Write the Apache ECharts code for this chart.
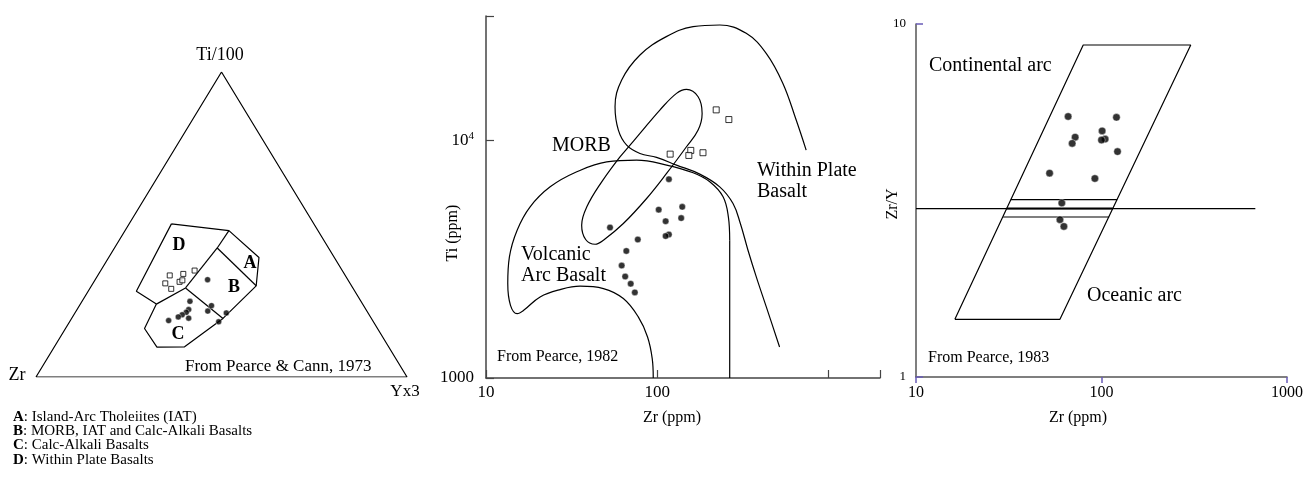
<!DOCTYPE html>
<html>
<head>
<meta charset="utf-8">
<title>Basalt discrimination diagrams</title>
<script src="https://cdn.jsdelivr.net/npm/echarts@6.0.0/dist/echarts.min.js"></script>
<style>
  html, body { margin: 0; padding: 0; background: #fff; }
  #main { width: 1306px; height: 487px; }
</style>
</head>
<body>
<div id="main"></div>
<script>
var serif = '"Liberation Serif", "Times New Roman", serif';

/* ----------------------------------------------------------------
 Pearce & Cann 1973 : compositions as [Zr, Ti/100, Yx3] (%)
 -----------------------------------------------------------------*/
var ternDots = [
  [37.8, 31.9, 30.3], [46.1, 24.8, 29.1], [41.0, 23.4, 35.6], [42.9, 21.6, 35.5],
  [47.8, 22.1, 30.1], [48.9, 21.2, 29.9], [50.4, 20.4, 29.2], [51.8, 19.7, 28.5],
  [49.2, 19.3, 31.5], [55.0, 18.5, 26.5], [38.2, 21.0, 40.8], [41.7, 18.1, 40.2]
];
var ternSquares = [
  [47.3, 33.3, 19.4], [43.4, 33.8, 22.8], [39.8, 34.9, 25.3], [49.8, 30.7, 19.5],
  [49.1, 28.9, 22.0], [45.7, 31.2, 23.1], [44.7, 31.7, 23.6]
];
var ternFrame = [[100, 0, 0], [0, 0, 100], [0, 100, 0], [100, 0, 0]];
var ternOutline = [
  [38.4, 50.2, 11.4], [24.0, 48.0, 28.0], [20.3, 39.2, 40.5], [25.7, 29.9, 44.4],
  [40.0, 19.2, 40.8], [55.0, 9.9, 35.1], [62.5, 9.8, 27.7], [62.8, 15.9, 21.3],
  [55.6, 23.9, 20.5], [58.9, 28.1, 13.0], [38.4, 50.2, 11.4]
];
var ternInner = [
  [[24.0, 48.0, 28.0], [30.0, 42.3, 27.7]],
  [[30.0, 42.3, 27.7], [25.7, 29.9, 44.4]],
  [[30.0, 42.3, 27.7], [45.1, 29.2, 25.7]],
  [[45.1, 29.2, 25.7], [55.6, 23.9, 20.5]],
  [[45.1, 29.2, 25.7], [40.0, 19.2, 40.8]]
];

/* ----------------------------------------------------------------
 Pearce 1982 : [Zr ppm, Ti ppm]
 -----------------------------------------------------------------*/
var tiDots = [
  [117, 6850], [102, 5100], [140, 5240], [112, 4560], [138, 4700], [117, 4010],
  [112, 3950], [53, 4290], [77, 3820], [66, 3420], [62, 2970], [65, 2670],
  [70, 2490], [74, 2290]
];
var tiSquares = [[221, 13400], [262, 12200], [119, 8730], [157, 9050], [153, 8620], [185, 8850]];
var morbField = [
  [60.6, 8509], [79.3, 10666], [103.6, 13376], [129.6, 15720], [148.2, 16340],
  [173.3, 15215], [182.9, 12946], [173.3, 11017], [148.2, 9376], [113.4, 7240],
  [86.7, 5683], [63.4, 4460], [48.5, 3795], [43.4, 3650], [38.2, 3820],
  [36.2, 4390], [38.8, 5242], [47.4, 6677], [60.6, 8509]
];
var vabField = [
  [94.8, 1000], [93.5, 1206], [87.8, 1488], [77.5, 1806], [63.4, 2157], [48.5, 2376],
  [35.4, 2431], [27.1, 2353], [20.7, 2192], [16.6, 1926], [15.2, 1865], [13.9, 2021],
  [13.4, 2494], [13.7, 3229], [15.2, 4182], [18.1, 5242], [23.7, 6362], [33.9, 7358],
  [50.7, 8103], [75.8, 8235], [113.4, 7850], [162.1, 7287], [202.7, 6677],
  [242.4, 5776], [260.3, 4758], [265, 3795]
];
var vabEdge = [[265, 3795], [265, 1000]];
var wpbField = [
  [741, 9077], [648, 12140], [542, 17310], [433, 23160], [331, 28100], [232, 30470],
  [162, 29990], [113, 27220], [79.3, 22790], [62.0, 17880], [56.7, 13810],
  [59.3, 11020], [66.3, 9528], [79.3, 8789], [99.1, 8455], [129.6, 7850],
  [177.2, 7194], [231.7, 6362], [277.1, 5413], [305.8, 4460], [338.9, 3445],
  [378.9, 2661], [433.5, 1990], [518.3, 1350]
];

/* ----------------------------------------------------------------
 Pearce 1983 : [Zr ppm, Zr/Y]
 -----------------------------------------------------------------*/
var zyDots = [
  [66.1, 5.47], [120.4, 5.44], [100.8, 4.98], [104.6, 4.72], [100, 4.69],
  [72.1, 4.78], [69.5, 4.59], [122, 4.35], [52.5, 3.78], [92.1, 3.65],
  [61.1, 3.11], [59.7, 2.79], [62.7, 2.67]
];
var arcField = [[16.2, 1.457], [59.7, 1.457], [302.8, 8.72], [79.7, 8.72], [16.2, 1.457]];
var arcSplit = [[10, 3], [675, 3]];
var arcSplitIn = [[30.8, 3], [115, 3]];
var arcSplitHi = [[32.4, 3.18], [121.5, 3.18]];
var arcSplitLo = [[29.5, 2.84], [110, 2.84]];

function tern(p) {
  var s = p[0] + p[1] + p[2];
  var t = p[1] / s, y = p[2] / s;
  return [y + t / 2, t];
}

function line(g, data, smooth, w) {
  return {
    type: 'line', xAxisIndex: g, yAxisIndex: g, data: data,
    showSymbol: false, smooth: smooth || false, silent: true,
    lineStyle: { color: '#000', width: w || 1.2 }, z: 2
  };
}
function dots(g, data, size) {
  return {
    type: 'scatter', xAxisIndex: g, yAxisIndex: g, data: data, symbol: 'circle',
    symbolSize: size, silent: true, z: 4,
    itemStyle: { color: '#000', borderColor: '#fff', borderWidth: 0.5 }
  };
}
function squares(g, data, size) {
  return {
    type: 'scatter', xAxisIndex: g, yAxisIndex: g, data: data, symbol: 'rect',
    symbolSize: size, silent: true, z: 4,
    itemStyle: { color: '#fff', borderColor: '#000', borderWidth: 1 }
  };
}

var series = [
  line(0, ternFrame.map(tern)),
  line(0, ternOutline.map(tern)),
  dots(0, ternDots.map(tern), 6),
  squares(0, ternSquares.map(tern), 5),
  line(1, morbField, 0.4),
  line(1, vabField, 0.4),
  line(1, vabEdge),
  line(1, wpbField, 0.4),
  dots(1, tiDots, 6.5),
  squares(1, tiSquares, 6),
  line(2, arcField),
  line(2, arcSplit),
  line(2, arcSplitIn, false, 2),
  line(2, arcSplitHi),
  line(2, arcSplitLo),
  dots(2, zyDots, 7.5)
];
ternInner.forEach(function (seg) {
  series.push(line(0, seg.map(tern)));
});

function txt(x, y, s, size, opt) {
  opt = opt || {};
  return {
    type: 'text', x: x, y: y, rotation: opt.rot || 0, silent: true,
    style: {
      text: s, fill: '#000', fontFamily: serif, fontSize: size,
      fontWeight: opt.bold ? 'bold' : 'normal',
      textAlign: opt.align || 'left', textVerticalAlign: 'middle',
      rich: opt.rich
    }
  };
}
var boldRich = { b: { fontWeight: 'bold', fontFamily: serif, fontSize: 15 } };

var graphics = [
  txt(220, 55, 'Ti/100', 18, { align: 'center' }),
  txt(17, 375, 'Zr', 18, { align: 'center' }),
  txt(405, 392, 'Yx3', 17, { align: 'center' }),
  txt(185, 367, 'From Pearce & Cann, 1973', 17),
  txt(179, 245, 'D', 18, { align: 'center', bold: true }),
  txt(250, 263, 'A', 18, { align: 'center', bold: true }),
  txt(234, 287, 'B', 18, { align: 'center', bold: true }),
  txt(178, 334, 'C', 18, { align: 'center', bold: true }),
  txt(13, 417, '{b|A}: Island-Arc Tholeiites (IAT)', 15, { rich: boldRich }),
  txt(13, 431, '{b|B}: MORB, IAT and Calc-Alkali Basalts', 15, { rich: boldRich }),
  txt(13, 445, '{b|C}: Calc-Alkali Basalts', 15, { rich: boldRich }),
  txt(13, 460, '{b|D}: Within Plate Basalts', 15, { rich: boldRich }),

  txt(552, 146, 'MORB', 20),
  txt(757, 171, 'Within Plate', 20),
  txt(757, 192, 'Basalt', 20),
  txt(521, 255, 'Volcanic', 20),
  txt(521, 276, 'Arc Basalt', 20),
  txt(497, 357, 'From Pearce, 1982', 16),
  txt(453, 233, 'Ti (ppm)', 16, { align: 'center', rot: Math.PI / 2 }),
  txt(672, 418, 'Zr (ppm)', 16, { align: 'center' }),

  txt(929, 66, 'Continental arc', 20),
  txt(1087, 296, 'Oceanic arc', 20),
  txt(928, 358, 'From Pearce, 1983', 16),
  txt(893, 204, 'Zr/Y', 16, { align: 'center', rot: Math.PI / 2 }),
  txt(1078, 418, 'Zr (ppm)', 16, { align: 'center' })
];

function near(v, t) { return Math.abs(v - t) < t * 1e-6; }

var midLine = { lineStyle: { color: '#444', width: 1.5 } };
var midTick = { inside: true, length: 8, lineStyle: { color: '#444', width: 1.2 } };
var rLine = { lineStyle: { color: '#555', width: 1.5 } };

var option = {
  animation: false,
  backgroundColor: '#fff',
  grid: [
    { left: 36, top: 72, width: 371, height: 305 },
    { left: 486, top: 16, width: 394, height: 362 },
    { left: 916, top: 24, width: 371, height: 353 }
  ],
  xAxis: [
    { gridIndex: 0, type: 'value', min: 0, max: 1, show: false },
    {
      gridIndex: 1, type: 'log', min: 10, max: 2000,
      axisLine: midLine, axisTick: midTick, splitLine: { show: false },
      axisLabel: {
        margin: 6, color: '#000', fontFamily: serif, fontSize: 17,
        formatter: function (v) { return (near(v, 10) || near(v, 100)) ? String(Math.round(v)) : ''; }
      }
    },
    {
      gridIndex: 2, type: 'log', min: 10, max: 1000,
      axisLine: rLine, splitLine: { show: false },
      axisTick: { inside: false, length: 6, lineStyle: { color: '#6a5cb8', width: 1.5 } },
      axisLabel: {
        margin: 8, color: '#000', fontFamily: serif, fontSize: 16,
        formatter: function (v) { return String(Math.round(v)); }
      }
    }
  ],
  yAxis: [
    { gridIndex: 0, type: 'value', min: 0, max: 1, show: false },
    {
      gridIndex: 1, type: 'log', min: 1000, max: 33240,
      axisLine: midLine, axisTick: midTick, splitLine: { show: false },
      axisLabel: {
        margin: 12, color: '#000', fontFamily: serif, fontSize: 17,
        formatter: function (v) {
          if (near(v, 10000)) return '{n|10}{s|4}';
          if (near(v, 1000)) return '1000';
          return '';
        },
        rich: {
          n: { fontFamily: serif, fontSize: 17, color: '#000' },
          s: { fontFamily: serif, fontSize: 11, color: '#000', verticalAlign: 'top', padding: [0, 0, 8, 0] }
        }
      }
    },
    {
      gridIndex: 2, type: 'log', min: 1, max: 10,
      axisLine: rLine, splitLine: { show: false },
      axisTick: { inside: true, length: 7, lineStyle: { color: '#6a5cb8', width: 1.5 } },
      axisLabel: {
        margin: 10, color: '#000', fontFamily: serif, fontSize: 13,
        formatter: function (v) { return String(Math.round(v)); }
      }
    }
  ],
  graphic: graphics,
  series: series
};

var myChart = echarts.init(document.getElementById('main'));
myChart.setOption(option);
</script>
</body>
</html>
